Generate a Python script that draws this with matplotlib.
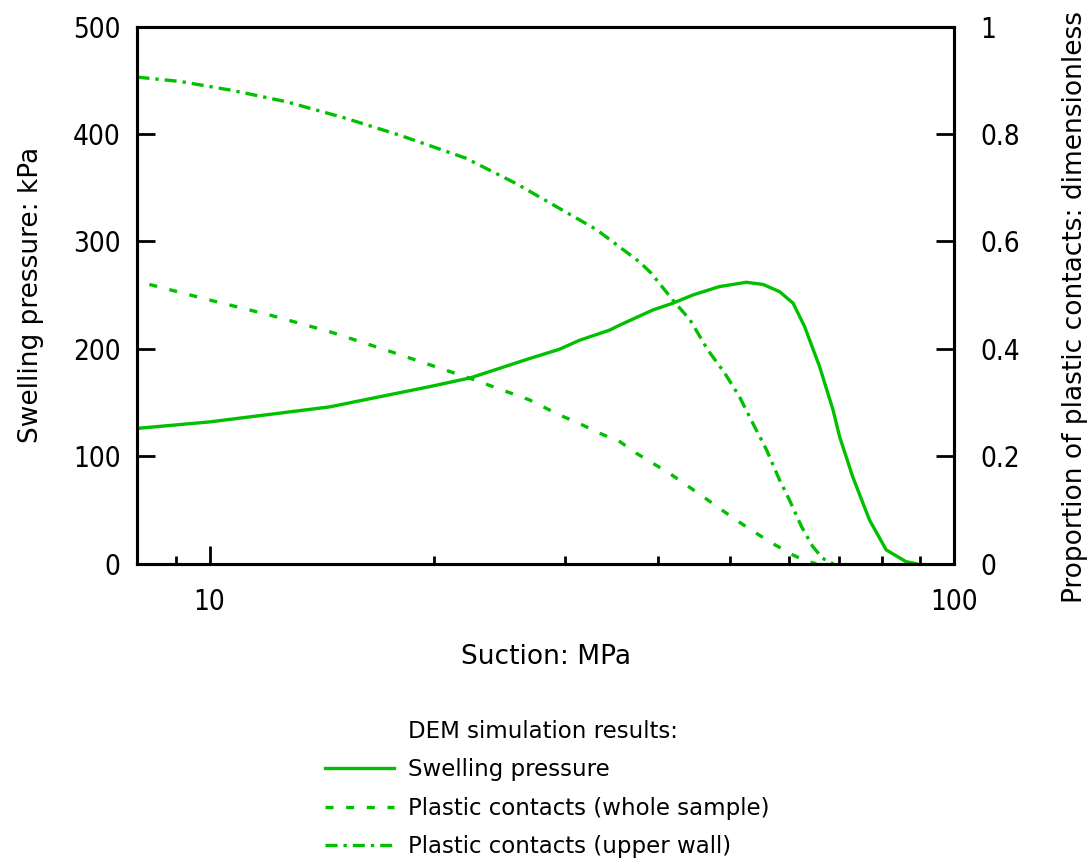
import matplotlib
matplotlib.use("Agg")
from matplotlib import pyplot as plt
from matplotlib.lines import Line2D
from matplotlib.ticker import NullFormatter, LogLocator

# swelling pressure (kPa) vs suction (MPa)
swell_x = [8.0, 10.0, 14.5, 19.8, 22.4, 26.9, 29.5, 31.4, 34.5, 35.6, 39.4, 41.9,
           44.6, 48.4, 52.6, 55.4, 58.3, 60.8, 63.0, 66.0, 68.8, 70.2, 73.1, 77.0,
           81.1, 86.2, 88.9]
swell_y = [126, 132, 146, 165, 173, 191, 199.6, 208, 217.6, 222.3, 236.2, 242.5,
           250.2, 258, 262, 260, 253.3, 242.5, 220.7, 183.4, 143, 118.3, 81, 40.7,
           12.8, 1.9, 0]

# proportion of plastic contacts, whole sample
whole_x = [8.3, 10.0, 12.05, 14.5, 17.5, 19.8, 22.4, 26.9, 29.5, 31.4, 33.4, 35.6,
           37.4, 41.5, 46.0, 51.0, 56.5, 60.8, 63.3, 65.3]
whole_y = [0.52, 0.491, 0.463, 0.432, 0.395, 0.370, 0.345, 0.305, 0.277, 0.261,
           0.243, 0.227, 0.206, 0.168, 0.125, 0.081, 0.041, 0.016, 0.005, 0.0]

# proportion of plastic contacts, upper wall
upper_x = [8.0, 9.13, 10.76, 12.7, 15.1, 18.0, 22.1, 25.8, 33.1, 37.8, 39.2, 41.9,
           44.2, 46.7, 49.2, 51.5, 53.7, 56.0, 58.3, 60.1, 62.4, 64.6, 66.6, 68.8]
upper_y = [0.906, 0.898, 0.881, 0.860, 0.831, 0.798, 0.755, 0.708, 0.622, 0.562,
           0.541, 0.491, 0.454, 0.398, 0.355, 0.311, 0.261, 0.212, 0.156, 0.119,
           0.069, 0.032, 0.010, 0.0]

green = "#00c000"
lw = 2.4

plt.rcParams["font.family"] = ["DejaVu Sans"]

fig = plt.figure(figsize=(10.9, 8.66), dpi=100)
ax = fig.add_axes([0.1261, 0.3491, 0.8752 - 0.1261, 0.9692 - 0.3491])
ax2 = ax.twinx()

l1, = ax.plot(swell_x, swell_y, color=green, lw=lw, label="Swelling pressure")
l2, = ax2.plot(whole_x, whole_y, color=green, lw=lw, linestyle=(0, (2.4, 3.8)),
               label="Plastic contacts (whole sample)")
l3, = ax2.plot(upper_x, upper_y, color=green, lw=lw, linestyle=(0, (3.6, 1.8, 1, 1.8)),
               label="Plastic contacts (upper wall)")

ax.set_xscale("log")
ax.set_xlim(8, 100)
ax.set_ylim(0, 500)
ax2.set_ylim(0, 1)

ax.set_xticks([10, 100])
ax.set_xticklabels(["10", "100"])
ax.xaxis.set_minor_locator(LogLocator(base=10, subs=range(2, 10)))
ax.xaxis.set_minor_formatter(NullFormatter())
ax.set_yticks([0, 100, 200, 300, 400, 500])
ax2.set_yticks([0, 0.2, 0.4, 0.6, 0.8, 1])
ax2.set_yticklabels(["0", "0.2", "0.4", "0.6", "0.8", "1"])

ax.tick_params(axis="x", which="major", direction="in", length=13, width=2,
               labelsize=20, pad=17.5, top=False)
ax.tick_params(axis="x", which="minor", direction="in", length=6, width=2, top=False)
ax.tick_params(axis="y", direction="in", length=13, width=2, labelsize=20, pad=12.2)
ax2.tick_params(axis="y", direction="in", length=13, width=2, labelsize=20, pad=18.7)

for t in ax.get_xticklabels() + ax.get_yticklabels() + ax2.get_yticklabels():
    t.set_fontstretch("condensed")

for a in (ax, ax2):
    for s in a.spines.values():
        s.set_linewidth(2.2)

ax.set_xlabel("Suction: MPa", fontsize=19, labelpad=20)
ax.set_ylabel("Swelling pressure: kPa", fontsize=19, labelpad=21)
ax2.set_ylabel("Proportion of plastic contacts: dimensionless", fontsize=19)
ax2.yaxis.set_label_coords(1.132, 0.478)

title_handle = Line2D([], [], linestyle="none")
fig.legend([title_handle, l1, l2, l3],
           ["DEM simulation results:", l1.get_label(), l2.get_label(), l3.get_label()],
           loc="upper left", bbox_to_anchor=(0.298, 0.169), bbox_transform=fig.transFigure,
           frameon=False, prop={"size": 16.5}, handlelength=3.0, handletextpad=0.61,
           labelspacing=0.68, borderpad=0, borderaxespad=0)

fig.savefig("out.png", dpi=100)
